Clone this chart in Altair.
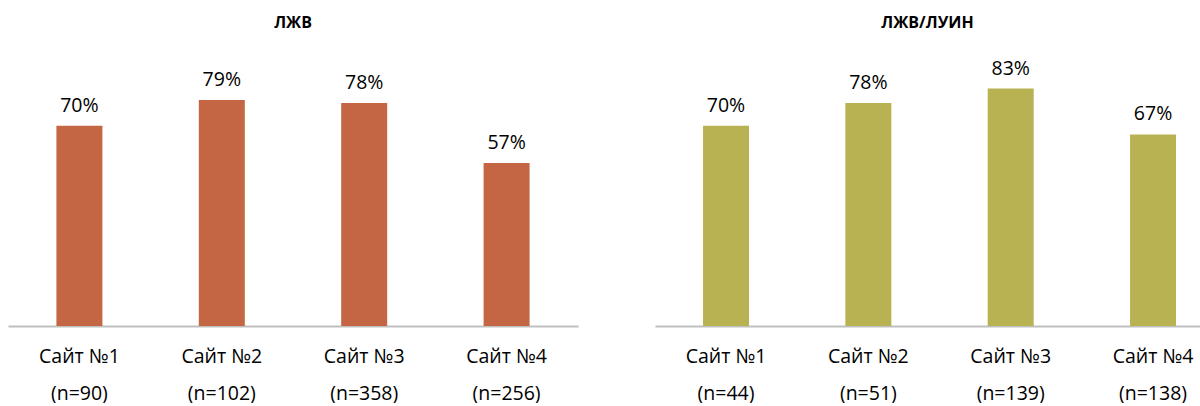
import altair as alt
import pandas as pd

sites = ["Сайт №1", "Сайт №2", "Сайт №3", "Сайт №4"]
left_title = "ЛЖВ"
left_n = ["(n=90)", "(n=102)", "(n=358)", "(n=256)"]
left_values = [0.70, 0.79, 0.78, 0.57]
right_title = "ЛЖВ/ЛУИН"
right_n = ["(n=44)", "(n=51)", "(n=139)", "(n=138)"]
right_values = [0.70, 0.78, 0.83, 0.67]

FONT = "Open Sans"


def panel(title, ns, values, color, width, pad_outer, align):
    df = pd.DataFrame({
        "cat": [f"{s}\n{n}" for s, n in zip(sites, ns)],
        "value": values,
    })
    order = list(df["cat"])
    x = alt.X("cat:N", sort=order, title=None,
              scale=alt.Scale(paddingInner=0.677, paddingOuter=pad_outer, align=align),
              axis=alt.Axis(labelExpr="split(datum.label, '\\n')", labelAngle=0,
                            labelFont=FONT, labelFontSize=19.5, labelColor="#000000",
                            labelLineHeight=37, labelPadding=21, ticks=False,
                            domainColor="#bfbfbf", domainWidth=2, grid=False))
    y = alt.Y("value:Q", scale=alt.Scale(domain=[0, 1]), axis=None)
    base = alt.Chart(df)
    bars = base.mark_bar(color=color).encode(x=x, y=y)
    text = base.mark_text(baseline="bottom", dy=-10, font=FONT, fontSize=19.5,
                          color="#000000").encode(
        x=alt.X("cat:N", sort=order), y=y, text=alt.Text("value:Q", format=".0%"))
    return (bars + text).properties(
        width=width, height=286,
        title=alt.TitleParams(title, font=FONT, fontSize=16, fontWeight="bold",
                              color="#000000", anchor="middle", offset=9))


left = panel(left_title, left_n, left_values, "#C46643", 570, 0.34, 0.5)
right = panel(right_title, right_n, right_values, "#B8B252", 545, 0.253, 0.667)

chart = alt.hconcat(left, right, spacing=77).properties(
    padding={"left": 8, "top": 15, "right": 0, "bottom": 0}
).configure(background="white").configure_view(strokeWidth=0, stroke="transparent")

chart.save("out.html", embed_options={"renderer": "svg", "actions": False})
